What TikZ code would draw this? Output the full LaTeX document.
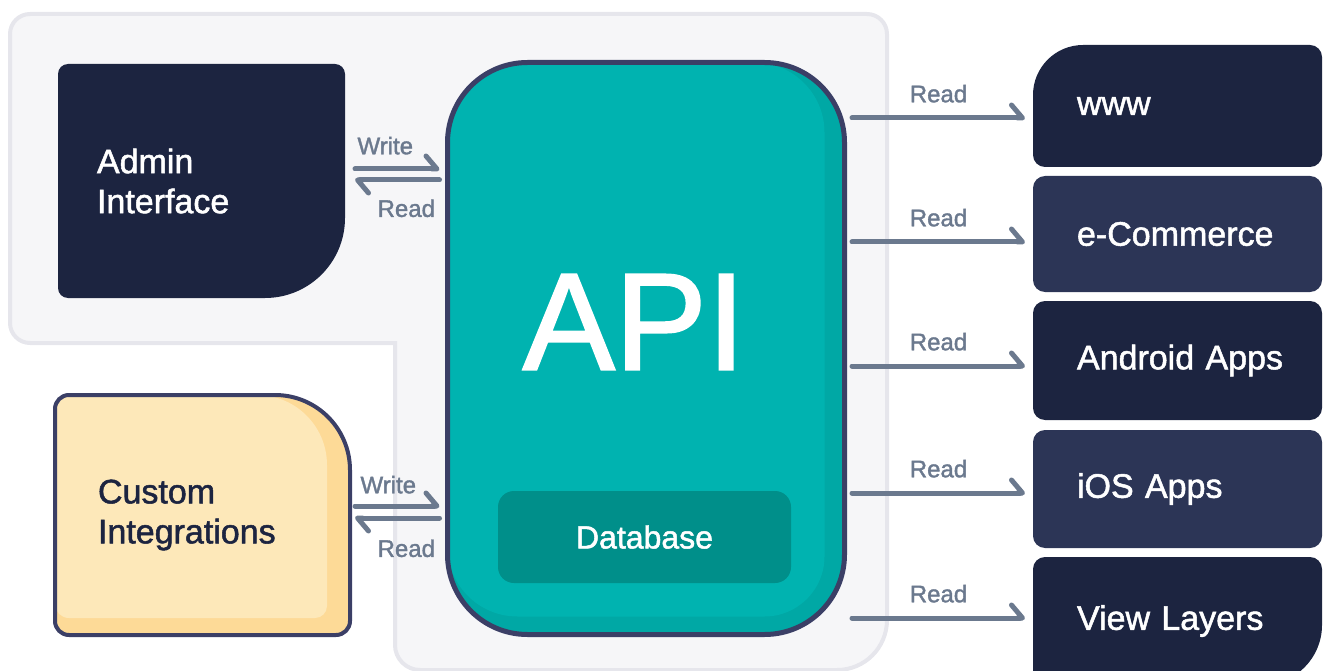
\documentclass[tikz,border=0pt]{standalone}
\usepackage{fontspec}
\setmainfont{Liberation Sans}
\newfontfamily\medfont[FakeBold=1.5]{Liberation Sans}
\usetikzlibrary{arrows.meta,calc,positioning}

\definecolor{panelfill}{HTML}{F6F6F8}
\definecolor{panelline}{HTML}{E6E6EC}
\definecolor{navy}{HTML}{1C2440}
\definecolor{navylight}{HTML}{2C3556}
\definecolor{rim}{HTML}{3B3F66}
\definecolor{teal}{HTML}{00B3B0}
\definecolor{tealdark}{HTML}{00A8A5}
\definecolor{dbteal}{HTML}{008F8A}
\definecolor{sand}{HTML}{FDE8B9}
\definecolor{sanddark}{HTML}{FDDA97}
\definecolor{flowgray}{HTML}{6B798E}

\pgfdeclarelayer{panel}
\pgfdeclarelayer{shapes}
\pgfsetlayers{panel,shapes,main}

% box with its own radius in each corner: nw point, se point, r_nw, r_ne, r_se, r_sw, style
\newcommand\cornerbox[7]{%
  \path[#7] let \p1=#1, \p2=#2 in
    (\x1+#3pt,\y1) -- (\x2-#4pt,\y1) arc[start angle=90,end angle=0,radius=#4pt]
    -- (\x2,\y2+#5pt) arc[start angle=0,end angle=-90,radius=#5pt]
    -- (\x1+#6pt,\y2) arc[start angle=-90,end angle=-180,radius=#6pt]
    -- (\x1,\y1-#3pt) arc[start angle=180,end angle=90,radius=#3pt] -- cycle;}

\tikzset{
  card/.style={inner ysep=0pt, outer sep=0pt, inner xsep=44pt, text width=201pt,
    align=left, text=white, font=\medfont\fontsize{34}{40}\selectfont, minimum height=#1},
  flow/.style={draw=flowgray, line width=5pt, line cap=round,
    -{Straight Barb[left, length=11pt, width=26pt, round]}},
  tag/.style={text=flowgray, font=\medfont\fontsize{24}{28}\selectfont, inner sep=2pt},
}

\begin{document}
\begin{tikzpicture}[x=1pt,y=-1pt]
\useasboundingbox (0,0) rectangle (1328,671);
\clip (0,0) rectangle (1328,671);

% group panel
\begin{pgfonlayer}{panel}
\filldraw[fill=panelfill, draw=panelline, line width=4pt]
  (10,34) arc[start angle=180, end angle=90, radius=20pt] -- (867,14)
  arc[start angle=90, end angle=0, radius=20pt] -- (887,620)
  arc[start angle=0, end angle=-90, radius=50pt] -- (420,670)
  arc[start angle=-90, end angle=-180, radius=25pt] -- (395,343) -- (30,343)
  arc[start angle=-90, end angle=-180, radius=20pt] -- cycle;
\end{pgfonlayer}

% sources
\node[card=234, inner xsep=39pt, text width=209pt] (admin) at (201.5,181) {Admin\\Interface};
\node[card=240, inner xsep=43pt, text width=209pt, text=navy] (custom) at (202.5,515) {Custom\\Integrations};

% api
\node[inner sep=0pt, outer sep=0pt, minimum width=397pt, minimum height=572pt] (api) at (646,348.5) {};
\node[text=white, font=\medfont\fontsize{138}{140}\selectfont, inner sep=0pt] (apiname) at (634,322) {API};
\node[fill=dbteal, rounded corners=16pt, minimum width=293pt, minimum height=92pt,
  text=white, font=\medfont\fontsize{32}{38}\selectfont] (db) at (644.5,537) {Database};

% consumers
\node[card=122] (www) at (1177.5,106) {www};
\node[card=116] (ecom) at (1177.5,234) {e-Commerce};
\node[card=119] (android) at (1177.5,360.5) {Android~Apps};
\node[card=118] (ios) at (1177.5,489) {iOS Apps};
\node[card=128] (view) at (1177.5,621) {View Layers};

\begin{pgfonlayer}{shapes}
\cornerbox{(admin.north west)}{(admin.south east)}{10}{10}{80}{10}{fill=navy}
\cornerbox{(custom.north west)}{(custom.south east)}{14}{75}{14}{14}{fill=sanddark}
\cornerbox{(custom.north west)}{($(custom.south east)+(-23,-17)$)}{14}{70}{12}{14}{fill=sand}
\cornerbox{(custom.north west)}{(custom.south east)}{14}{75}{14}{14}{draw=rim, line width=4pt}
\cornerbox{(api.north west)}{(api.south east)}{80}{80}{80}{80}{fill=tealdark}
\cornerbox{(api.north west)}{($(api.south east)+(-20,-18)$)}{80}{70}{60}{70}{fill=teal}
\cornerbox{(api.north west)}{(api.south east)}{80}{80}{80}{80}{draw=rim, line width=5pt}
\cornerbox{(www.north west)}{(www.south east)}{50}{12}{12}{12}{fill=navy}
\cornerbox{(ecom.north west)}{(ecom.south east)}{12}{12}{12}{12}{fill=navylight}
\cornerbox{(android.north west)}{(android.south east)}{12}{12}{12}{12}{fill=navy}
\cornerbox{(ios.north west)}{(ios.south east)}{12}{12}{12}{12}{fill=navylight}
\cornerbox{(view.north west)}{(view.south east)}{12}{12}{60}{12}{fill=navy}
\end{pgfonlayer}

% write / read
\draw[flow] ($(admin.east)+(10,-12)$)
  -- node[tag, pos=0, anchor=south west, xshift=-2pt, yshift=10pt] {Write} ($(admin.east -| api.west)+(-8,-12)$);
\draw[flow] ($(admin.east -| api.west)+(-8,-1)$)
  -- node[tag, pos=0, anchor=north east, yshift=-15pt] {Read} ($(admin.east)+(10,-1)$);
\draw[flow] ($(custom.east)+(5,-9)$)
  -- node[tag, pos=0, anchor=south west, xshift=1pt, yshift=8pt] {Write} ($(custom.east -| api.west)+(-8,-9)$);
\draw[flow] ($(custom.east -| api.west)+(-8,3)$)
  -- node[tag, pos=0, anchor=north east, yshift=-17pt] {Read} ($(custom.east)+(5,3)$);

\foreach \b/\dy in {www/12,ecom/8,android/5.5,ios/4,view/-3}
  \draw[flow] ($(api.east |- \b.west)+(7.5,\dy)$)
    -- node[tag, above=11pt] {Read} ($(\b.west)+(-8,\dy)$);
\end{tikzpicture}
\end{document}
